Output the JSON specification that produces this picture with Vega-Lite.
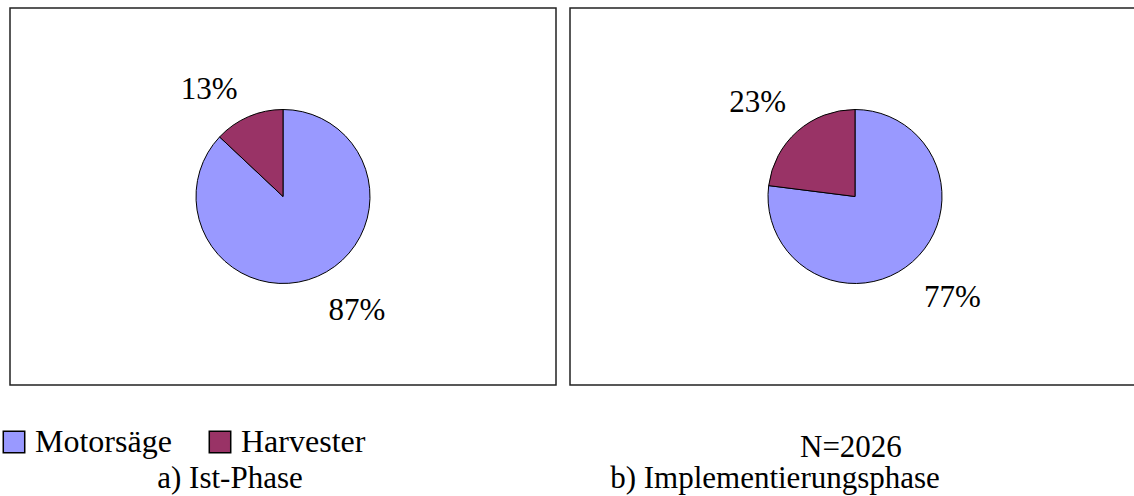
{
  "$schema": "https://vega.github.io/schema/vega-lite/v6.json",
  "padding": {"left": -2, "top": 7, "right": -2, "bottom": 0},
  "background": "white",
  "spacing": 12,
  "config": {
    "view": {"stroke": "#222222", "strokeWidth": 1.5},
    "font": "Liberation Serif",
    "title": {"font": "Liberation Serif", "fontSize": 31, "fontWeight": "normal", "color": "black"}
  },
  "datasets": {
    "ist": [
      {"Typ": "Motorsäge", "Anteil": 0.87, "ord": 1},
      {"Typ": "Harvester", "Anteil": 0.13, "ord": 2}
    ],
    "impl": [
      {"Typ": "Motorsäge", "Anteil": 0.77, "ord": 1},
      {"Typ": "Harvester", "Anteil": 0.23, "ord": 2}
    ]
  },
  "title": {"text": "N=2026", "orient": "bottom", "anchor": "start", "align": "left", "dx": 802, "offset": -62},
  "resolve": {"scale": {"color": "shared"}, "legend": {"color": "shared"}},
  "hconcat": [
    {
      "width": 546,
      "height": 377,
      "view": {"stroke": "#222222", "strokeWidth": 1.5},
      "data": {"name": "ist"},
      "title": {"text": "a) Ist-Phase", "orient": "bottom", "anchor": "middle", "dx": -53, "offset": 79},
      "encoding": {
        "theta": {"field": "Anteil", "type": "quantitative", "stack": true},
        "order": {"field": "ord", "type": "quantitative"}
      },
      "layer": [
        {
          "mark": {"type": "arc", "outerRadius": 87, "stroke": "black", "strokeWidth": 1},
          "encoding": {
            "color": {
              "field": "Typ", "type": "nominal",
              "scale": {"domain": ["Motorsäge", "Harvester"], "range": ["#9999FF", "#993366"]},
              "legend": {
                "orient": "none", "legendX": -12, "legendY": 418, "direction": "horizontal",
                "padding": 0, "title": null, "symbolType": "square", "symbolSize": 460,
                "symbolStrokeColor": "black", "symbolStrokeWidth": 1.5, "symbolOpacity": 1,
                "labelFont": "Liberation Serif", "labelFontSize": 32, "labelColor": "black",
                "labelLimit": 300, "columnPadding": 32, "labelOffset": 5
              }
            }
          }
        },
        {
          "mark": {"type": "text", "radius": 133, "thetaOffset": -0.18, "dy": 4, "fontSize": 31, "font": "Liberation Serif", "color": "black"},
          "encoding": {"text": {"field": "Anteil", "type": "quantitative", "format": ".0%"}}
        }
      ]
    },
    {
      "width": 568,
      "height": 377,
      "view": {"stroke": "#222222", "strokeWidth": 1.5},
      "data": {"name": "impl"},
      "title": {"text": "b) Implementierungsphase", "orient": "bottom", "anchor": "middle", "dx": -79, "offset": 79},
      "encoding": {
        "theta": {"field": "Anteil", "type": "quantitative", "stack": true},
        "order": {"field": "ord", "type": "quantitative"}
      },
      "layer": [
        {
          "mark": {"type": "arc", "outerRadius": 87, "stroke": "black", "strokeWidth": 1, "xOffset": 1},
          "encoding": {
            "color": {"field": "Typ", "type": "nominal"}
          }
        },
        {
          "mark": {"type": "text", "radius": 138, "thetaOffset": -0.06, "dy": 4, "fontSize": 31, "font": "Liberation Serif", "color": "black", "xOffset": 1},
          "encoding": {"text": {"field": "Anteil", "type": "quantitative", "format": ".0%"}}
        }
      ]
    }
  ]
}
